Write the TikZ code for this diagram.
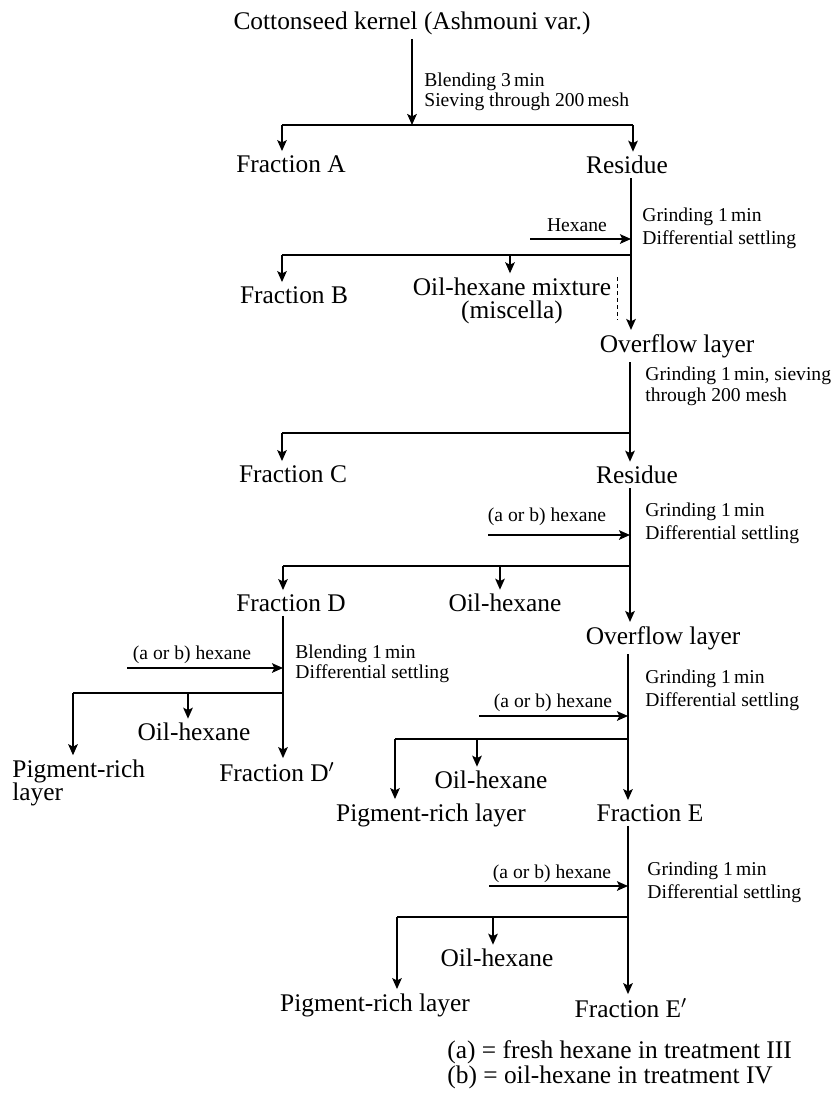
\documentclass[tikz,border=0pt]{standalone}
\usepackage{fontspec}
\setmainfont{Liberation Serif}
\usetikzlibrary{positioning, calc, arrows.meta}

\begin{document}
\begin{tikzpicture}[x=0.5pt, y=-0.5pt, >={Stealth[length=5.5pt,width=4.8pt,inset=1.2pt]},
    lab/.style={inner sep=2pt, font=\fontsize{12.7}{11.8}\selectfont},
    note/.style={inner sep=1pt, align=left, font=\fontsize{9.8}{11.5}\selectfont}]
    \useasboundingbox (0,0) rectangle (833,1094);

    % kernel -> Fraction A / Residue
    \node[lab] (kernel) at (412,23) {Cottonseed kernel (Ashmouni var.)};
    \node[note, anchor=west] (blend3) at (422,92) {Blending 3\,min\\[-1.5pt]Sieving through 200\,mesh};
    \node[lab] (fracA) at (291,164) {Fraction A};
    \node[lab] (resA) at (627,165) {Residue};
    \coordinate (s1) at (412,125);
    \coordinate (a1) at (282,125);
    \coordinate (b1) at (633,125);
    \draw[->, thick] (kernel) -- (s1);
    \draw[thick] (a1) -- (b1);
    \draw[->, thick] (a1) -- (a1 |- fracA.north);
    \draw[->, thick] (b1) -- (b1 |- resA.north);

    % Residue -> Fraction B / miscella / Overflow layer
    \node[note] (hexA) at (577,225) {Hexane};
    \node[note, anchor=west] (grind1) at (640,228) {Grinding 1\,min\\Differential settling};
    \node[lab] (fracB) at (294,295) {Fraction B};
    \node[lab, align=center] (mixt) at (512,301) {Oil-hexane mixture\\(miscella)};
    \node[lab] (ovfA) at (677,346) {Overflow layer};
    \coordinate (h1) at (530,239);
    \coordinate (c2) at (631,255);
    \coordinate (a2) at (282,255);
    \coordinate (m2) at (510,255);
    \coordinate (d1) at (617,277);
    \coordinate (d2) at (617,320);
    \draw[->, thick] (resA.south -| c2) -- (c2 |- ovfA.north);
    \draw[->, thick] (h1) -- (h1 -| c2);
    \draw[thick] (a2) -- (c2);
    \draw[->, thick] (a2) -- (a2 |- fracB.north);
    \draw[->, thick] (m2) -- (m2 |- mixt.north);
    \draw[thin, dash pattern=on 2pt off 1.5pt] (d1) -- (d2);

    % Overflow layer -> Fraction C / Residue
    \node[note, anchor=west] (grind2) at (643,386) {Grinding 1\,min, sieving\\[-1pt]through 200 mesh};
    \node[lab] (fracC) at (293,474) {Fraction C};
    \node[lab] (resB) at (637,475) {Residue};
    \coordinate (c3) at (630,433);
    \coordinate (a3) at (282,433);
    \draw[->, thick] (ovfA.south -| c3) -- (c3 |- resB.north);
    \draw[thick] (a3) -- (c3);
    \draw[->, thick] (a3) -- (a3 |- fracC.north);

    % Residue -> Fraction D / oil-hexane / Overflow layer
    \node[note] (hexB) at (547,517) {(a or b) hexane};
    \node[note, anchor=west] (grind3) at (643,523) {Grinding 1\,min\\Differential settling};
    \node[lab] (fracD) at (291,603) {Fraction D};
    \node[lab] (oilA) at (505,603) {Oil-hexane};
    \node[lab] (ovfB) at (663,638) {Overflow layer};
    \coordinate (h2) at (488,535);
    \coordinate (c4) at (630,566);
    \coordinate (a4) at (283,566);
    \coordinate (m4) at (500,566);
    \draw[->, thick] (resB.south -| c4) -- (c4 |- ovfB.north);
    \draw[->, thick] (h2) -- (h2 -| c4);
    \draw[thick] (a4) -- (c4);
    \draw[->, thick] (a4) -- (a4 |- fracD.north);
    \draw[->, thick] (m4) -- (m4 |- oilA.north);

    % Fraction D -> Pigment-rich layer / oil-hexane / Fraction D'
    \node[note] (hexC) at (192,655) {(a or b) hexane};
    \node[note, anchor=west] (blend1) at (293,664) {Blending 1\,min\\[-1.5pt]Differential settling};
    \node[lab] (oilB) at (194,732) {Oil-hexane};
    \node[lab, anchor=west, align=left] (pigA) at (8,783) {Pigment-rich\\layer};
    \node[lab] (fracDp) at (277,772) {Fraction D$'$};
    \coordinate (h3) at (127,668);
    \coordinate (c5) at (283,693);
    \coordinate (a5) at (73,693);
    \coordinate (m5) at (188,693);
    \draw[->, thick] (fracD.south -| c5) -- (c5 |- fracDp.north);
    \draw[->, thick] (h3) -- (h3 -| c5);
    \draw[thick] (a5) -- (c5);
    \draw[->, thick] (a5) -- (a5 |- pigA.north);
    \draw[->, thick] (m5) -- (m5 |- oilB.north);

    % Overflow layer -> Pigment-rich layer / oil-hexane / Fraction E
    \node[note] (hexD) at (553,703) {(a or b) hexane};
    \node[note, anchor=west] (grind4) at (643,690) {Grinding 1\,min\\Differential settling};
    \node[lab] (oilC) at (491,780) {Oil-hexane};
    \node[lab] (pigB) at (431,815) {Pigment-rich layer};
    \node[lab] (fracE) at (650,813) {Fraction E};
    \coordinate (h4) at (479,716);
    \coordinate (c6) at (628,739);
    \coordinate (a6) at (395,739);
    \coordinate (m6) at (477,739);
    \draw[->, thick] (ovfB.south -| c6) -- (c6 |- fracE.north);
    \draw[->, thick] (h4) -- (h4 -| c6);
    \draw[thick] (a6) -- (c6);
    \draw[->, thick] (a6) -- (a6 |- pigB.north);
    \draw[->, thick] (m6) -- (m6 |- oilC.north);

    % Fraction E -> Pigment-rich layer / oil-hexane / Fraction E'
    \node[note] (hexE) at (552,874) {(a or b) hexane};
    \node[note, anchor=west] (grind5) at (645,882) {Grinding 1\,min\\Differential settling};
    \node[lab] (oilD) at (497,958) {Oil-hexane};
    \node[lab] (pigC) at (375,1005) {Pigment-rich layer};
    \node[lab] (fracEp) at (631,1008) {Fraction E$'$};
    \coordinate (h5) at (489,886);
    \coordinate (c7) at (628,917);
    \coordinate (a7) at (397,917);
    \coordinate (m7) at (493,917);
    \draw[->, thick] (fracE.south -| c7) -- (c7 |- fracEp.north);
    \draw[->, thick] (h5) -- (h5 -| c7);
    \draw[thick] (a7) -- (c7);
    \draw[->, thick] (a7) -- (a7 |- pigC.north);
    \draw[->, thick] (m7) -- (m7 |- oilD.north);

    % legend
    \node[lab, anchor=west, align=left] (legend) at (443,1065) {(a) = fresh hexane in treatment III\\[0.5pt](b) = oil-hexane in treatment IV};

\end{tikzpicture}
\end{document}
